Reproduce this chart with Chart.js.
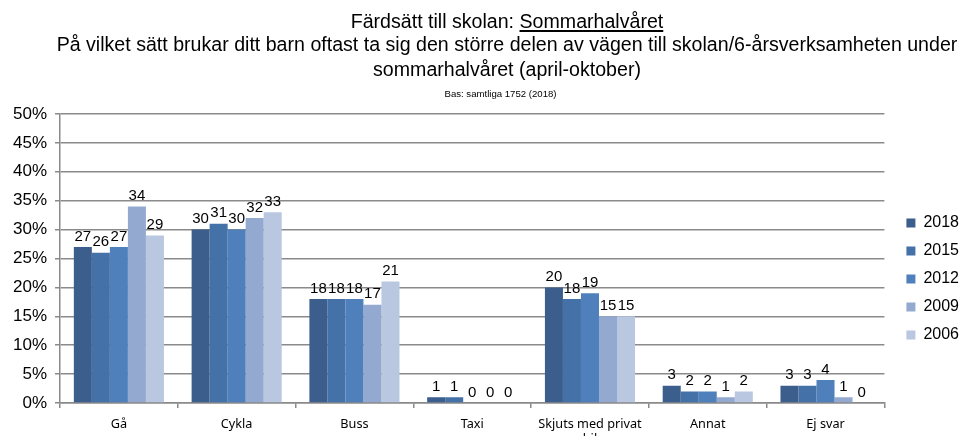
<!DOCTYPE html>
<html>
<head>
<meta charset="utf-8">
<script src="https://cdn.jsdelivr.net/npm/chart.js@4.4.1/dist/chart.umd.min.js"></script>
<style>
    body { margin: 0; background: #fff; }
    #wrap { position: relative; width: 962px; height: 436px; overflow: hidden; font-family: "Liberation Sans", Arial, sans-serif; }
    #wrap canvas { position: absolute; left: 0; top: 0; }
    .t { position: absolute; left: 0; width: 1014px; text-align: center; color: #000; white-space: nowrap; font-size: 19.6px; line-height: 22px; }
    #t1 { top: 10px; }
    #t2 { top: 33px; }
    #t3 { top: 58px; }
    #t4 { top: 88px; font-size: 9.6px; line-height: 11px; width: 1001px; }
    u { text-decoration-thickness: 2px; text-underline-offset: 2px; }
</style>
</head>
<body>
<div id="wrap">
    <canvas id="fardChart" width="962" height="436"></canvas>
    <div class="t" id="t1">Färdsätt till skolan: <u>Sommarhalvåret</u></div>
    <div class="t" id="t2">På vilket sätt brukar ditt barn oftast ta sig den större delen av vägen till skolan/6-årsverksamheten under</div>
    <div class="t" id="t3">sommarhalvåret (april-oktober)</div>
    <div class="t" id="t4">Bas: samtliga 1752 (2018)</div>
</div>
<script>
const categories = ['Gå', 'Cykla', 'Buss', 'Taxi', ['Skjuts med privat', 'bil'], 'Annat', 'Ej svar'];
const years = ['2018', '2015', '2012', '2009', '2006'];
const values2018 = [27, 30, 18, 1, 20, 3, 3];
const values2015 = [26, 31, 18, 1, 18, 2, 3];
const values2012 = [27, 30, 18, 0, 19, 2, 4];
const values2009 = [34, 32, 17, 0, 15, 1, 1];
const values2006 = [29, 33, 21, 0, 15, 2, 0];
const yearColors = ['#3b5e8d', '#4471a7', '#4f80bc', '#94a9cf', '#b9c7e1'];

const allValues = [values2018, values2015, values2012, values2009, values2006];

// etiketter ovanför staplarna
const barLabels = {
    id: 'barLabels',
    afterDatasetsDraw(chart) {
        const ctx = chart.ctx;
        ctx.save();
        ctx.font = '15px "Liberation Sans", Arial, sans-serif';
        ctx.fillStyle = '#000';
        ctx.textAlign = 'center';
        ctx.textBaseline = 'bottom';
        chart.data.datasets.forEach((ds, i) => {
            chart.getDatasetMeta(i).data.forEach((bar, j) => {
                ctx.fillText(ds.data[j], bar.x, bar.y - 3);
            });
        });
        ctx.restore();
    }
};

// flytta legenden lite åt höger, som i originalet
const legendShift = {
    id: 'legendShift',
    afterLayout(chart) {
        chart.legend.left += 10;
        chart.legend.right += 10;
    }
};

new Chart(document.getElementById('fardChart'), {
    type: 'bar',
    data: {
        labels: categories,
        datasets: years.map((y, i) => ({
            label: y,
            data: allValues[i],
            backgroundColor: yearColors[i],
            borderWidth: 0,
            categoryPercentage: 0.765,
            barPercentage: 1
        }))
    },
    options: {
        responsive: false,
        animation: false,
        layout: { padding: { top: 114, right: 3, left: 0, bottom: 0 } },
        plugins: {
            tooltip: { enabled: false },
            legend: {
                position: 'right',
                title: { display: true, text: ' ', padding: 0, font: { size: 8, lineHeight: 1 } },
                labels: {
                    boxWidth: 9,
                    boxHeight: 9,
                    padding: 12,
                    color: '#000',
                    font: { size: 16, family: '"Liberation Sans", Arial, sans-serif' }
                }
            }
        },
        scales: {
            x: {
                grid: { drawOnChartArea: false, color: '#8a8a8a', lineWidth: 1.5, tickLength: 5 },
                border: { color: '#8a8a8a', width: 1.5 },
                ticks: { color: '#000', maxRotation: 0, autoSkip: false, padding: 9, font: { size: 12.7, family: '"Noto Sans", sans-serif' } },
                afterFit(scale) { scale.height = 33; }
            },
            y: {
                min: 0,
                max: 50,
                grid: { color: '#8a8a8a', lineWidth: 1.5, tickLength: 5 },
                border: { color: '#8a8a8a', width: 1.5 },
                ticks: {
                    stepSize: 5,
                    color: '#000',
                    padding: 8,
                    font: { size: 17, family: '"Liberation Sans", Arial, sans-serif' },
                    callback: v => v + '%'
                },
                afterFit(scale) { scale.width = 60; }
            }
        }
    },
    plugins: [barLabels, legendShift]
});
</script>
</body>
</html>
